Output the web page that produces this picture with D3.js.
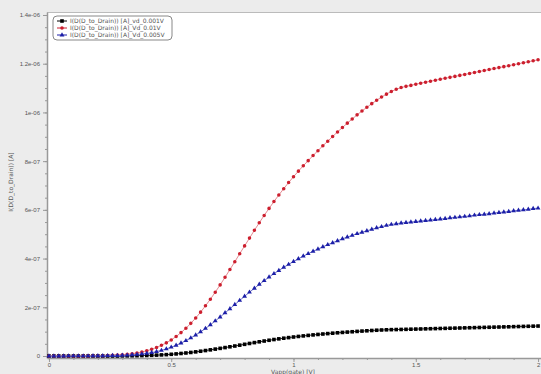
<!DOCTYPE html>
<html lang="en">
<head>
	<meta charset="UTF-8">
	<title>Id vs Vgate</title>
	<script type="text/javascript" src="https://cdn.jsdelivr.net/npm/d3@7/dist/d3.min.js"></script>
	<style>
		body { margin: 0; background: #ececec; }
		svg { display: block; font-family: "DejaVu Sans", sans-serif; }
		.tick text { fill: #555; font-size: 6px; }
		.axis path, .axis line { stroke: #999; }
		.lbl { fill: #555; font-size: 6px; }
	</style>
</head>
<body>
<script type="text/javascript">
	// gate sweep, 0 .. 2 V in 0.02 V steps
	var vgate = d3.range(0, 101).map(function (i) { return +(i * 0.02).toFixed(2); });

	// drain currents, in nA
	var id_vd001 = [
		0, 0, 0, 0, 0, 0, 0, 0, 0, 0,
		0, 0, 0, 0, 0, 0.5, 0.7, 1, 1.3, 1.7,
		2.2, 2.8, 3.6, 4.5, 5.6, 7, 8.6, 10.4, 12.4, 14.6,
		17, 19.6, 22.4, 25.3, 28.3, 31.4, 34.6, 37.8, 41, 44.5,
		48, 51.5, 55, 58.3, 61.5, 64.6, 67.6, 70.4, 73, 75.5,
		78, 80.3, 82.5, 84.6, 86.6, 88.5, 90.3, 92, 93.7, 95.3,
		96.8, 98.2, 99.6, 101, 102.3, 103.5, 104.7, 105.8, 106.8, 107.6,
		108.2, 108.6, 109, 109.5, 110, 110.5, 111, 111.5, 112, 112.5,
		113, 113.5, 114, 114.5, 115, 115.5, 116, 116.5, 117, 117.5,
		118, 118.5, 119, 119.5, 120, 120.5, 121, 121.5, 122, 122.5,
		123
	];
	var id_vd01 = [
		0, 0, 0, 0.1, 0.1, 0.2, 0.3, 0.4, 0.5, 0.7,
		1, 1.4, 2, 2.8, 3.8, 5.2, 7, 9.5, 12.5, 16.5,
		21.5, 27.5, 35, 44, 54, 66, 80, 96, 114, 134,
		156, 180, 206, 233, 262, 292, 323, 355, 387, 420,
		452, 484, 516, 547, 577, 606, 634, 661, 687, 712,
		736, 759, 781, 802, 823, 843, 863, 882, 901, 920,
		938, 956, 973, 990, 1006, 1021, 1036, 1050, 1063, 1075,
		1086, 1095, 1102, 1107, 1111, 1116, 1120, 1124, 1128, 1132,
		1136, 1140, 1144, 1148, 1152, 1156, 1160, 1164, 1168, 1172,
		1176, 1180, 1184, 1188, 1192, 1196, 1200, 1204, 1208, 1212,
		1216
	];
	var id_vd005 = [
		0, 0, 0, 0, 0.1, 0.1, 0.2, 0.3, 0.4, 0.5,
		0.7, 0.9, 1.2, 1.5, 2, 2.5, 3.5, 5, 6.5, 8.5,
		11, 14, 18, 23, 29, 36, 44, 53, 63, 74,
		86, 99, 113, 128, 144, 160, 177, 194, 211, 228,
		245, 262, 278, 294, 309, 324, 338, 351, 364, 376,
		388, 399, 410, 420, 430, 439, 448, 457, 465, 473,
		481, 488, 495, 502, 508, 514, 520, 526, 531, 536,
		540, 543, 546, 548, 550, 552, 554, 556, 558, 560,
		562, 564, 567, 569, 571, 573, 575, 578, 580, 582,
		584, 587, 589, 591, 593, 596, 598, 600, 602, 605,
		607
	];

	var seriesNames = [
		"I(D(D_to_Drain)) [A]_vd_0.001V",
		"I(D(D_to_Drain)) [A]_Vd_0.01V",
		"I(D(D_to_Drain)) [A]_Vd_0.005V"
	];
	var xTicks = [0, 0.5, 1, 1.5, 2];
	var yTicks = [0, 2e-7, 4e-7, 6e-7, 8e-7, 1e-6, 1.2e-6, 1.4e-6];
	var yTickLabels = ["0", "2e-07", "4e-07", "6e-07", "8e-07", "1e-06", "1.2e-06", "1.4e-06"];

	var series = [
		{ name: seriesNames[0], values: id_vd001, color: "#000000", line: "#333333", shape: d3.symbolSquare, size: 13 },
		{ name: seriesNames[1], values: id_vd01, color: "#cc1f2e", line: "#e58a92", shape: d3.symbolCircle, size: 10 },
		{ name: seriesNames[2], values: id_vd005, color: "#1c1fa8", line: "#6f72c8", shape: d3.symbolTriangle, size: 10 }
	];

	var W = 541, H = 374;
	var pLeft = 47, pRight = 541, pTop = 12, pBottom = 358;

	var svg = d3.select("body").append("svg")
		.attr("width", W)
		.attr("height", H);

	svg.append("rect")
		.attr("x", pLeft).attr("y", pTop)
		.attr("width", pRight - pLeft).attr("height", pBottom - pTop)
		.attr("fill", "#fff");

	var x = d3.scaleLinear().domain([-0.008, 2.012]).range([pLeft, pRight]);
	var y = d3.scaleLinear().domain([-8.2e-9, 1.4123e-6]).range([pBottom, pTop]);

	// top border
	svg.append("line")
		.attr("x1", pLeft).attr("x2", pRight)
		.attr("y1", pTop + 0.5).attr("y2", pTop + 0.5)
		.attr("stroke", "#bbb");

	// minor ticks
	svg.append("g")
		.attr("class", "axis")
		.attr("transform", "translate(" + pLeft + ",0)")
		.call(d3.axisLeft(y).tickValues(d3.range(0, 29).map(function (i) { return i * 5e-8; })).tickSize(2).tickFormat(""))
		.select(".domain").remove();
	svg.append("g")
		.attr("class", "axis")
		.attr("transform", "translate(0," + pBottom + ")")
		.call(d3.axisBottom(x).tickValues(d3.range(0, 21).map(function (i) { return i * 0.1; })).tickSize(2).tickFormat(""))
		.select(".domain").remove();

	var yAxis = svg.append("g")
		.attr("class", "axis")
		.attr("transform", "translate(" + pLeft + ",0)")
		.call(d3.axisLeft(y).tickValues(yTicks).tickSize(4).tickSizeOuter(0)
			.tickFormat(function (d, i) { return yTickLabels[i]; }));
	yAxis.select(".domain").attr("stroke-width", 1.5);

	var xAxis = svg.append("g")
		.attr("class", "axis")
		.attr("transform", "translate(0," + pBottom + ")")
		.call(d3.axisBottom(x).tickValues(xTicks).tickSize(4).tickPadding(1).tickSizeOuter(0)
			.tickFormat(function (d) { return String(d); }));
	xAxis.select(".domain").attr("stroke-width", 1.5);

	svg.append("text")
		.attr("class", "lbl")
		.attr("x", 293).attr("y", 373.5)
		.attr("text-anchor", "middle")
		.text("Vapp(gate) [V]");

	svg.append("text")
		.attr("class", "lbl")
		.attr("transform", "translate(13,182) rotate(-90)")
		.attr("text-anchor", "middle")
		.text("I(D(D_to_Drain)) [A]");

	var line = d3.line()
		.x(function (d, i) { return x(vgate[i]); })
		.y(function (d) { return y(d * 1e-9); });

	var plot = svg.append("g");

	series.forEach(function (s) {
		plot.append("path")
			.datum(s.values)
			.attr("fill", "none")
			.attr("stroke", s.line)
			.attr("stroke-width", 1)
			.attr("d", line);
		plot.selectAll(null)
			.data(s.values)
			.enter().append("path")
			.attr("d", d3.symbol().type(s.shape).size(s.size))
			.attr("fill", s.color)
			.attr("transform", function (d, i) { return "translate(" + x(vgate[i]) + "," + y(d * 1e-9) + ")"; });
	});

	// legend
	var lg = svg.append("g").attr("transform", "translate(53,16)");
	lg.append("rect")
		.attr("width", 119).attr("height", 24)
		.attr("rx", 4).attr("ry", 4)
		.attr("fill", "#fff")
		.attr("stroke", "#888");
	series.forEach(function (s, i) {
		var yy = 5 + i * 7;
		lg.append("line")
			.attr("x1", 4).attr("x2", 14)
			.attr("y1", yy).attr("y2", yy)
			.attr("stroke", s.color);
		lg.append("path")
			.attr("d", d3.symbol().type(s.shape).size(s.size))
			.attr("fill", s.color)
			.attr("transform", "translate(9," + yy + ")");
		lg.append("text")
			.attr("class", "lbl")
			.attr("x", 17).attr("y", yy + 2)
			.text(s.name);
	});
</script>
</body>
</html>
